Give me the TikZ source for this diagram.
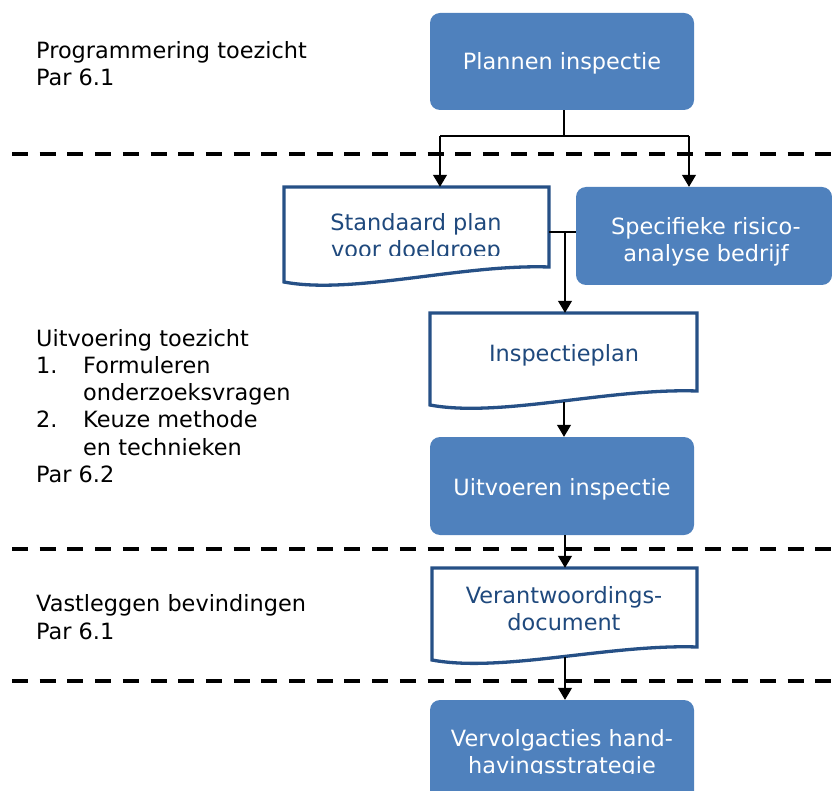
\documentclass[tikz,border=0pt]{standalone}
\usepackage{fontspec}
\setmainfont{DejaVu Sans}
\usetikzlibrary{arrows.meta}
\definecolor{boxblue}{RGB}{79,129,189}
\definecolor{docblue}{RGB}{38,80,134}
\definecolor{doctext}{RGB}{31,73,125}
\newcommand\drawdocshape[5]{%
  \draw[docline] (#1,#3) -- (#2,#3) -- (#2,#4)
    .. controls ({#2-0.33*(#2-#1)},{#4-3}) and ({#1+0.26*(#2-#1)},{#5+13}) .. (#1,#5) -- cycle;}
\begin{document}
\begin{tikzpicture}[x=1pt,y=-1pt,
  txt/.style={font=\fontsize{22.4}{27}\selectfont, inner sep=0pt, anchor=base},
  lefttxt/.style={txt, anchor=base west},
  whitetxt/.style={txt, text=white},
  doctxt/.style={txt, text=doctext},
  bluebox/.style={rectangle, rounded corners=10pt, fill=boxblue, draw=none, inner sep=0pt},
  docarea/.style={rectangle, draw=none, inner sep=0pt},
  docline/.style={draw=docblue, line width=3.3pt, fill=white, line join=miter},
  conn/.style={draw=black, line width=1.2pt},
  arr/.style={conn, -{Triangle[width=14pt,length=12pt]}},
  sep/.style={draw=black, line width=4pt, dash pattern=on 16pt off 11.7pt}
]
\useasboundingbox (0,0) rectangle (832,791);
\begin{scope}
\clip (0,0) rectangle (832,791);

% separators
\coordinate (s1a) at (12,154); \coordinate (s1b) at (832,154);
\coordinate (s2a) at (12,549); \coordinate (s2b) at (832,549);
\coordinate (s3a) at (12,681); \coordinate (s3b) at (832,681);
\draw[sep] (s1a) -- (s1b);
\draw[sep] (s2a) -- (s2b);
\draw[sep] (s3a) -- (s3b);

% boxes
\node[bluebox, minimum width=264pt, minimum height=97pt] (plan) at (562,61.5) {};
\node[bluebox, minimum width=256pt, minimum height=98pt] (spec) at (704,236) {};
\node[bluebox, minimum width=264pt, minimum height=98pt] (uitv) at (562,486) {};
\node[bluebox, minimum width=264pt, minimum height=110pt] (verv) at (562,755) {};

% documents
\node[docarea, minimum width=265pt, minimum height=95pt] (std) at (416.5,234.5) {};
\drawdocshape{284}{549}{187}{267}{282}
\node[docarea, minimum width=267pt, minimum height=92pt] (insp) at (563.5,359) {};
\drawdocshape{430}{697}{313}{391}{405}
\node[docarea, minimum width=265pt, minimum height=92pt] (verd) at (564.5,614) {};
\drawdocshape{432}{697}{568}{647}{660}

% texts in boxes
\node[whitetxt] (plant) at (562,70) {Plannen inspectie};
\node[whitetxt] (spect1) at (706,235) {Specifieke risico-};
\node[whitetxt] (spect2) at (706,261.5) {analyse bedrijf};
\node[doctxt] (stdt1) at (416,230.5) {Standaard plan};
\begin{scope}
\clip (284,187) rectangle (549,256);
\node[doctxt] (stdt2) at (416,257.5) {voor doelgroep};
\end{scope}
\node[doctxt] (inspt) at (564,361) {Inspectieplan};
\node[whitetxt] (uitvt) at (562,495) {Uitvoeren inspectie};
\node[doctxt] (verdt1) at (564,603) {Verantwoordings-};
\node[doctxt] (verdt2) at (564,630) {document};
\node[whitetxt] (vervt1) at (562,746) {Vervolgacties hand-};
\begin{scope}
\clip (430,700) rectangle (694,773);
\node[whitetxt] (vervt2) at (562,773.5) {havingsstrategie};
\end{scope}

% left texts
\node[lefttxt] (l1) at (36,59) {Programmering toezicht};
\node[lefttxt] (l2) at (36,85.5) {Par 6.1};
\node[lefttxt] (l3) at (36,346) {Uitvoering toezicht};
\node[lefttxt] (l4a) at (36,373.3) {1.};
\node[lefttxt] (l4b) at (83,373.3) {Formuleren};
\node[lefttxt] (l5) at (83,400.6) {onderzoeksvragen};
\node[lefttxt] (l6a) at (36,427.9) {2.};
\node[lefttxt] (l6b) at (83,427.9) {Keuze methode};
\node[lefttxt] (l7) at (83,455.2) {en technieken};
\node[lefttxt] (l8) at (36,482.5) {Par 6.2};
\node[lefttxt] (l9) at (36,611.5) {Vastleggen bevindingen};
\node[lefttxt] (l10) at (36,639) {Par 6.1};

% connectors
\coordinate (j1) at (564,136);
\coordinate (bl) at (440,136);
\coordinate (br) at (689,136);
\draw[conn] (plan.south -| j1) -- (j1);
\draw[conn] (bl) -- (br);
\draw[arr] (bl) -- (bl |- std.north);
\draw[arr] (br) -- (br |- spec.north);

\coordinate (j2) at (565,232);
\draw[conn] (std.east |- j2) -- (spec.west |- j2);
\draw[arr] (j2) -- (j2 |- insp.north);

\coordinate (c1) at (564,402);
\draw[arr] (c1) -- (c1 |- uitv.north);
\coordinate (c2) at (565,535);
\draw[arr] (c2) -- (c2 |- verd.north);
\coordinate (c3) at (565,657);
\draw[arr] (c3) -- (c3 |- verv.north);
\end{scope}
\end{tikzpicture}
\end{document}
